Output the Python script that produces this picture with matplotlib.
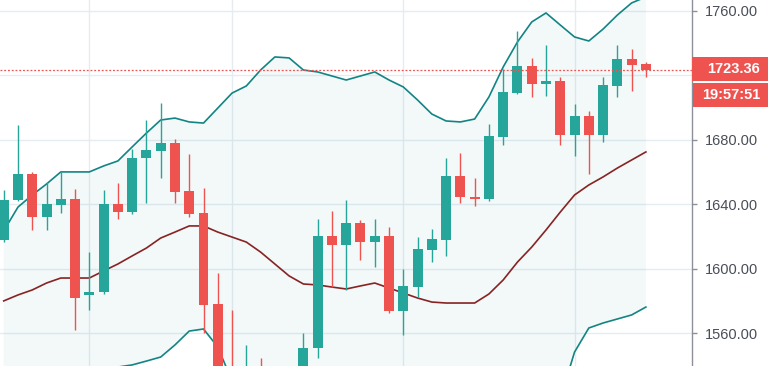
import matplotlib.pyplot as plt
from matplotlib.patches import Rectangle
import numpy as np

# OHLC candles (prices)
opens = [1618.0, 1642.8, 1658.9, 1632.2, 1639.7, 1643.4, 1583.9, 1585.7, 1640.3, 1635.3,
         1668.8, 1673.2, 1678.1, 1648.4, 1634.7, 1578.3, 1532.0, 1515.0, 1530.0, 1520.0,
         1528.0, 1535.0, 1550.7, 1620.5, 1614.9, 1628.5, 1616.7, 1620.5, 1574.0, 1588.8,
         1611.8, 1618.0, 1657.7, 1644.7, 1643.4, 1681.9, 1709.1, 1725.9, 1714.7, 1716.6,
         1683.1, 1694.9, 1683.1, 1713.5, 1730.2, 1727.1]
highs = [1649.0, 1689.3, 1660.0, 1654.0, 1660.2, 1649.6, 1610.5, 1649.0, 1653.3, 1674.4,
         1692.4, 1702.9, 1680.6, 1671.3, 1650.2, 1597.5, 1574.6, 1552.9, 1544.8, 1536.0,
         1538.0, 1560.3, 1631.0, 1636.0, 1642.8, 1630.4, 1631.0, 1626.0, 1600.0, 1619.8,
         1624.8, 1668.8, 1671.9, 1656.4, 1689.9, 1724.0, 1747.6, 1730.9, 1738.9, 1719.0,
         1702.3, 1698.0, 1719.0, 1738.9, 1736.4, 1728.4]
lows = [1617.0, 1642.0, 1624.2, 1624.2, 1634.7, 1562.2, 1574.6, 1584.5, 1631.0, 1634.0,
        1641.0, 1656.4, 1641.0, 1632.2, 1560.3, 1522.0, 1510.0, 1508.0, 1512.0, 1515.0,
        1522.0, 1530.0, 1545.0, 1588.8, 1587.0, 1605.6, 1601.2, 1572.7, 1559.0, 1582.6,
        1604.3, 1608.1, 1641.0, 1639.1, 1642.0, 1676.9, 1708.5, 1706.7, 1707.3, 1676.9,
        1670.1, 1658.9, 1678.8, 1706.7, 1710.4, 1719.0]
closes = [1642.8, 1658.9, 1632.2, 1640.3, 1643.4, 1582.0, 1585.7, 1640.3, 1635.3, 1668.8,
          1673.8, 1678.1, 1647.8, 1634.1, 1577.7, 1530.0, 1515.0, 1530.0, 1520.0, 1528.0,
          1535.0, 1550.7, 1620.5, 1614.9, 1628.5, 1616.7, 1620.5, 1574.0, 1589.5, 1612.4,
          1618.6, 1657.7, 1644.7, 1643.4, 1682.5, 1709.8, 1725.9, 1714.7, 1716.6, 1683.1,
          1694.9, 1683.1, 1714.1, 1730.2, 1726.5, 1723.36]

# Bollinger band lines as drawn
bb_upper = [1623.6, 1638.4, 1645.9, 1652.7, 1660.2, 1660.2, 1660.2, 1663.9, 1667.0, 1675.7,
            1684.3, 1692.4, 1693.6, 1691.2, 1690.5, 1699.8, 1709.1, 1713.5, 1723.4, 1731.5,
            1730.9, 1723.4, 1722.2, 1719.7, 1717.2, 1719.7, 1722.2, 1717.2, 1712.9, 1704.8,
            1696.1, 1691.8, 1691.2, 1693.0, 1706.7, 1725.3, 1740.8, 1753.2, 1758.8, 1751.3,
            1743.9, 1741.4, 1748.8, 1757.5, 1765.0, 1768.7]
bb_basis = [1580.2, 1583.9, 1587.0, 1591.3, 1594.4, 1594.4, 1594.4, 1598.8, 1603.1, 1608.1,
            1613.0, 1619.2, 1622.9, 1626.7, 1626.7, 1622.9, 1619.8, 1616.7, 1610.5, 1603.1,
            1595.7, 1590.7, 1590.1, 1588.8, 1587.6, 1589.5, 1591.3, 1588.2, 1585.1, 1582.0,
            1579.5, 1578.9, 1578.9, 1578.9, 1584.5, 1593.2, 1604.3, 1613.6, 1624.2, 1635.3,
            1645.9, 1652.1, 1657.1, 1662.6, 1667.6, 1672.6]
bb_lower = [1536.7, 1529.3, 1528.1, 1529.9, 1528.7, 1528.7, 1528.7, 1533.6, 1539.2, 1540.5,
            1542.9, 1545.4, 1552.9, 1561.5, 1562.8, 1551.6, 1530.5, 1520.0, 1497.7, 1474.7,
            1460.5, 1458.0, 1458.0, 1458.0, 1458.0, 1459.2, 1460.5, 1459.2, 1457.4, 1459.2,
            1462.9, 1466.0, 1466.7, 1464.8, 1462.3, 1461.1, 1467.9, 1474.1, 1489.6, 1519.4,
            1548.5, 1563.4, 1566.5, 1569.0, 1571.5, 1576.4]

price_ticks = [1560, 1600, 1640, 1680, 1720, 1760]
price_labels = ['1560.00', '1600.00', '1640.00', '1680.00', '', '1760.00']
time_grid = [6, 16, 28, 40]
last_price = 1723.36
countdown = '19:57:51'

UP = '#26a69a'
DOWN = '#ef5350'
GRID = '#e4ecf1'

W, H = 768, 366
fig = plt.figure(figsize=(W / 100, H / 100), dpi=100)
ax = fig.add_axes([0, 0, 692 / W, 1])

x = np.arange(len(closes))
o = np.array(opens)
c = np.array(closes)
colors = [UP if cc >= oo else DOWN for oo, cc in zip(o, c)]

# grid
for p in price_ticks:
    ax.axhline(p, color=GRID, lw=1, zorder=0)
for t in time_grid:
    ax.axvline(t, color=GRID, lw=1, zorder=0)

# bollinger bands
ax.fill_between(x, bb_lower, bb_upper, color='#198787', alpha=0.05, lw=0, zorder=1)
ax.plot(x, bb_upper, color='#138484', lw=1.2, zorder=2)
ax.plot(x, bb_lower, color='#138484', lw=1.2, zorder=2)
ax.plot(x, bb_basis, color='#872323', lw=1.2, zorder=2)

# candles
ax.vlines(x, lows, highs, colors=colors, lw=1, zorder=3)
body = np.maximum(np.abs(c - o), 0.6)
ax.bar(x, body, bottom=np.minimum(o, c), width=0.7, color=colors, lw=0, zorder=4)

# last price line
ax.axhline(last_price, color=DOWN, lw=0.9, ls=(0, (1.5, 1.5)), zorder=5)

ax.set_xlim(-0.26, 48.23)
ax.set_ylim(1539.84, 1766.82)

for s in ['top', 'left', 'bottom']:
    ax.spines[s].set_visible(False)
ax.spines['right'].set_color('#8d9099')
ax.spines['right'].set_linewidth(1)
ax.set_xticks([])
ax.yaxis.tick_right()
ax.set_yticks(price_ticks)
ax.set_yticklabels(price_labels, fontfamily='Liberation Sans', fontsize=10.5, color='#4a4e58')
ax.tick_params(axis='y', length=3.5, width=1, color='#8d9099', pad=5.5)

# price label boxes on the right scale
fig.add_artist(Rectangle((692 / W, 1 - 81 / H), 76 / W, 24 / H, transform=fig.transFigure,
                         color=DOWN, lw=0))
fig.text(733 / W, 1 - 69 / H, f'{last_price:.2f}', color='white', fontsize=10.5,
         fontweight='bold', fontfamily='Liberation Sans', ha='center', va='center')
fig.add_artist(Rectangle((693 / W, 1 - 107 / H), 75 / W, 24 / H, transform=fig.transFigure,
                         color=DOWN, lw=0))
fig.text(731 / W, 1 - 95 / H, countdown, color='white', fontsize=10.5,
         fontweight='bold', fontfamily='Liberation Sans', ha='center', va='center')

fig.savefig('out.png', dpi=100)
